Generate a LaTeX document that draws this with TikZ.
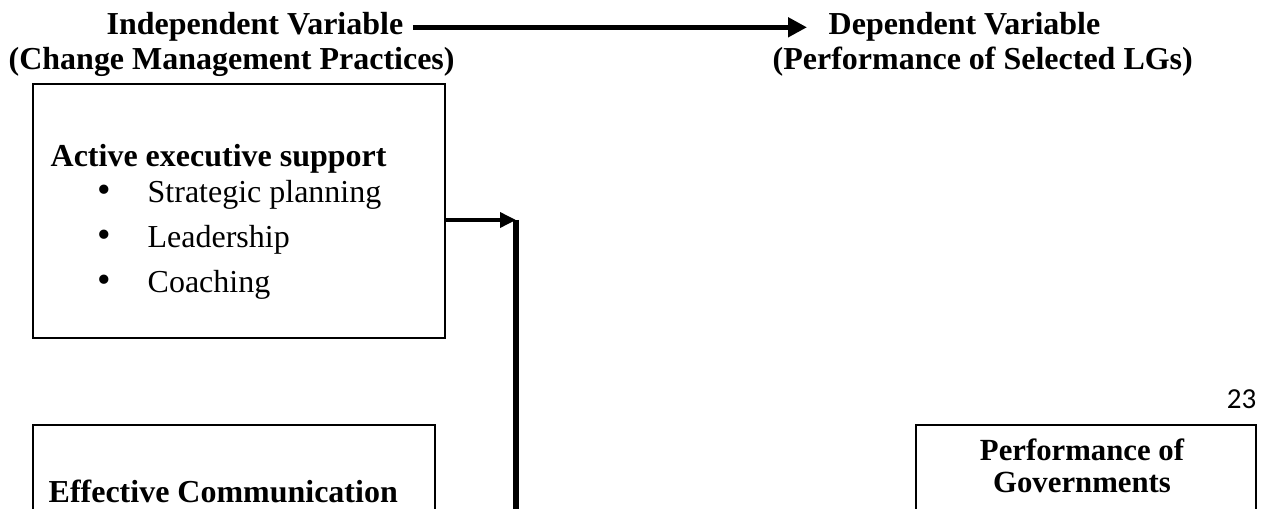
\documentclass[tikz,border=0pt]{standalone}
\usepackage{fontspec}
\setmainfont{Liberation Serif}
\newfontfamily\pagenofont{Carlito}
\usetikzlibrary{arrows.meta,calc}

\begin{document}
\begin{tikzpicture}[font=\fontsize{9.1}{10.9}\selectfont,>=Latex,line join=miter,
  varhead/.style={font=\fontsize{9.1}{10.9}\selectfont\bfseries,inner sep=0pt},
  cbox/.style={draw,semithick,anchor=north west,inner sep=0pt},
  boxhead/.style={font=\fontsize{9.1}{10.9}\selectfont\bfseries,inner sep=0pt},
  bulletitem/.style={anchor=base west,inner sep=0pt}]
  \useasboundingbox (0,0) rectangle (12.62,5.08);
  \clip (0,0) rectangle (12.62,5.08);

  % Column headings and the main arrow
  \node[varhead,anchor=base west] (indep) at (1.06,4.73) {Independent Variable};
  \node[varhead,anchor=base west] (indepsub) at (.08,4.38) {(Change Management Practices)};
  \node[varhead,anchor=base west] (dep) at (8.28,4.73) {Dependent Variable};
  \node[varhead,anchor=base west] (depsub) at (7.72,4.38) {(Performance of Selected LGs)};
  \draw[line width=1.4pt,-{Triangle[length=1.9mm,width=1.9mm]},
    shorten <=.9mm,shorten >=2.1mm] (indep.east) -- (dep.west);

  % First practice
  \node[cbox,minimum width=4.12cm,minimum height=2.54cm] (aes) at (.32,4.25) {};
  \node[boxhead,anchor=base west] (aeshead) at (.50,3.41) {Active executive support};
  \foreach \t [count=\i] in {Strategic planning,Leadership,Coaching} {
    \node[inner sep=0pt,anchor=base,font=\fontsize{11}{12}\selectfont] (dot\i) at (1.04,3.50-.45*\i) {\textbullet};
    \node[bulletitem] (item\i) at (1.47,3.50-.45*\i) {\t};
  }

  % Second practice, cut by the page
  \node[cbox,minimum width=4.02cm,minimum height=1.2cm] (ecom) at (.32,.84) {};
  \node[boxhead,anchor=base west] (ecomhead) at (.48,.06) {Effective Communication};

  % Joining line down the page
  \coordinate (jn) at (5.16,2.88);
  \draw[line width=1pt,-{Triangle[length=1.6mm,width=1.5mm]}] (aes.east |- jn) -- (jn);
  \draw[line width=1.7pt] (jn) -- (jn |- 0,-.2);

  % Outcome box and page number
  \node[inner sep=0pt,anchor=base east,font=\fontsize{8.25}{9.9}\pagenofont] (pageno) at (12.57,1.00) {23};
  \node[cbox,minimum width=3.40cm,minimum height=1.2cm] (perf) at (9.15,.84) {};
  \node[boxhead,anchor=base,font=\fontsize{8.75}{10.5}\selectfont\bfseries] (perfhead) at (10.82,.48) {Performance of};
  \node[boxhead,anchor=base,font=\fontsize{8.75}{10.5}\selectfont\bfseries] (govhead) at (10.82,.16) {Governments};
\end{tikzpicture}
\end{document}
